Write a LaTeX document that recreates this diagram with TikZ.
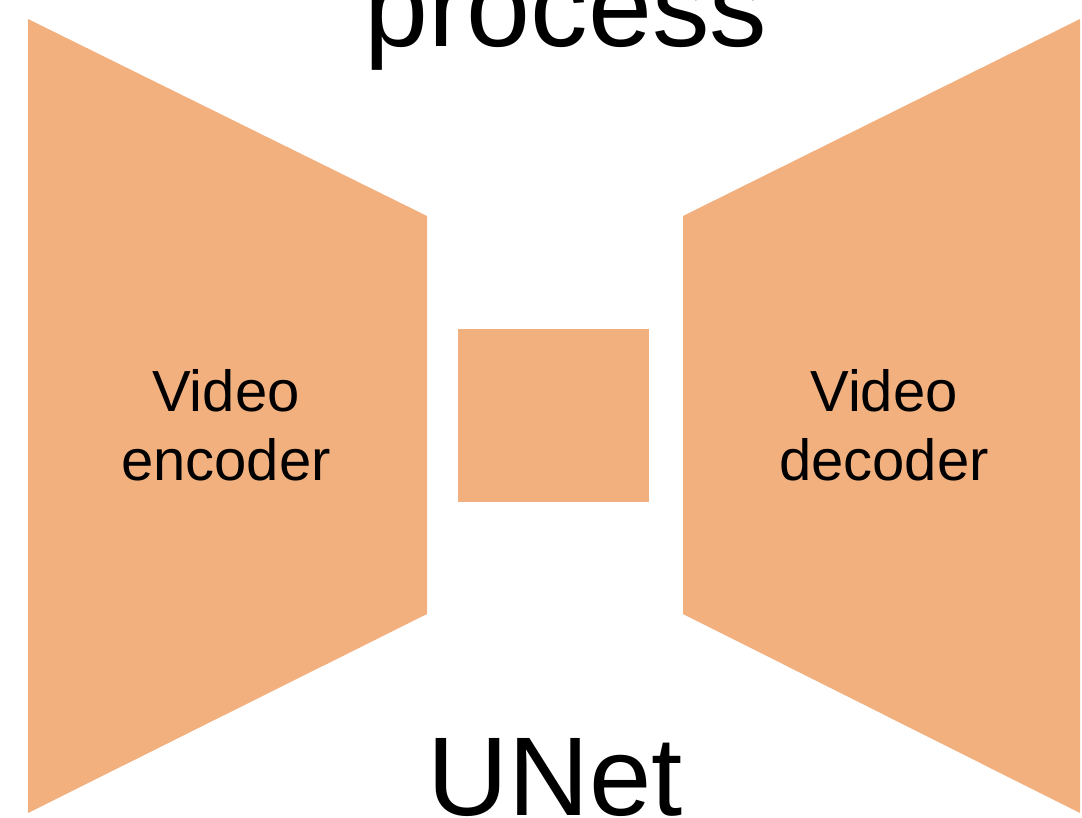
\documentclass[tikz,border=0pt]{standalone}
\usepackage{fontspec}
\setmainfont{Liberation Sans}
\definecolor{peach}{HTML}{F2B07F}
\begin{document}
\begin{tikzpicture}[x=1pt,y=-1pt,
  blockfill/.style={fill=peach,draw=none},
  lbl/.style={text=black,align=center,font=\fontsize{58}{69}\selectfont},
  bigtxt/.style={text=black,anchor=base,font=\fontsize{112}{120}\selectfont}]
\useasboundingbox (0,0) rectangle (1082,818);
\fill[white] (0,0) rectangle (1082,818);
\path[blockfill] (28,19) -- (427,216) -- (427,614) -- (28,813) -- cycle;
\path[blockfill] (1080,19) -- (683,216) -- (683,614) -- (1080,813) -- cycle;
\node[blockfill,minimum width=191pt,minimum height=173pt,inner sep=0pt] (mid) at (553.5,415.5) {};
\node[lbl] (enc) at (226,425) {Video\\encoder};
\node[lbl] (dec) at (884,425) {Video\\decoder};
\node[bigtxt,font=\fontsize{115}{120}\selectfont] (proc) at (566,47) {process};
\node[bigtxt] (unet) at (555.5,815) {UNet};
\end{tikzpicture}
\end{document}
